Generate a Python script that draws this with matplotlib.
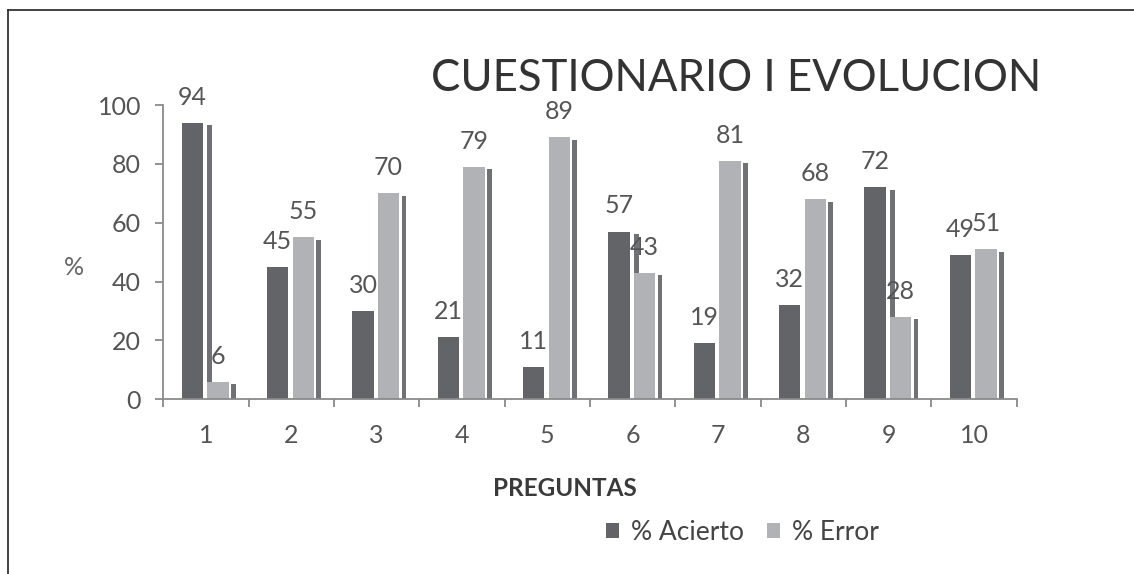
import numpy as np
import matplotlib.pyplot as plt
from matplotlib.lines import Line2D

plt.rcParams['font.family'] = ['Lato', 'DejaVu Sans']

# Data
preguntas = ['1', '2', '3', '4', '5', '6', '7', '8', '9', '10']
acierto = [94, 45, 30, 21, 11, 57, 19, 32, 72, 49]
error = [6, 55, 70, 79, 89, 43, 81, 68, 28, 51]

dark = '#636468'
light = '#b1b2b5'
shade = '#707175'
text_grey = '#555555'

W, H = 1134, 574
fig = plt.figure(figsize=(W / 100, H / 100), dpi=100)
ax = fig.add_axes([163.3 / W, 1 - 399.3 / H, (1016.7 - 163.3) / W, (399.3 - 105) / H])

x = np.arange(1, len(preguntas) + 1)
bw = 0.25
sw = 0.055

# thin "3D" side strips behind each bar
ax.bar(x + 0.0425, np.array(acierto) - 0.8, sw, color=shade, zorder=1)
ax.bar(x + 0.32, np.array(error) - 0.8, sw, color=shade, zorder=1)

b1 = ax.bar(x - 0.16, acierto, bw, color=dark, zorder=2, label='% Acierto')
b2 = ax.bar(x + 0.14, error, bw, color=light, zorder=2, label='% Error')

for bars, vals in [(b1, acierto), (b2, error)]:
    for rect, v in zip(bars, vals):
        ax.annotate(str(v), (rect.get_x() + rect.get_width() / 2, v),
                    xytext=(0, 13), textcoords='offset points',
                    ha='center', va='baseline', fontsize=18, color=text_grey)

ax.set_xlim(0.5, 10.5)
ax.set_ylim(0, 100)
ax.set_yticks(range(0, 101, 20))
ax.set_xticks(x)
ax.set_xticklabels(preguntas)
ax.set_xticks(np.arange(0.5, 11, 1), minor=True)

for s in ['top', 'right']:
    ax.spines[s].set_visible(False)
for s in ['left', 'bottom']:
    ax.spines[s].set_color('#8a8a8a')
    ax.spines[s].set_linewidth(1.3)

ax.tick_params(axis='y', length=6, width=1.3, color='#8a8a8a', pad=10,
               labelsize=18, labelcolor=text_grey)
ax.tick_params(axis='x', which='major', length=0, pad=18,
               labelsize=18, labelcolor=text_grey)
ax.tick_params(axis='x', which='minor', length=6, width=1.3, color='#8a8a8a')

fig.text(431 / W, 1 - 78.5 / H, 'CUESTIONARIO I EVOLUCION', ha='left', va='center',
         fontsize=31.5, color='#333333')
fig.text(74 / W, 1 - 267 / H, '%', ha='center', va='center', fontsize=18, color='#666666')
fig.text(565 / W, 1 - 488.5 / H, 'PREGUNTAS', ha='center', va='center',
         fontsize=17.5, fontweight='bold', color='#3a3a3a')

leg = fig.legend(handles=[b1, b2], loc='center', bbox_to_anchor=(742.5 / W, 1 - 532 / H),
                 ncol=2, frameon=False, fontsize=19, handlelength=0.5, handleheight=0.5,
                 handletextpad=0.45, columnspacing=0.85, borderpad=0)
for t in leg.get_texts():
    t.set_color('#444444')

# page border (top and left edges)
fig.add_artist(Line2D([8 / W, 8 / W], [0, 1 - 10 / H], transform=fig.transFigure,
                      color='#333333', lw=1.3))
fig.add_artist(Line2D([8 / W, 1], [1 - 10 / H, 1 - 10 / H], transform=fig.transFigure,
                      color='#333333', lw=1.3))

fig.savefig('out.png', dpi=100)
